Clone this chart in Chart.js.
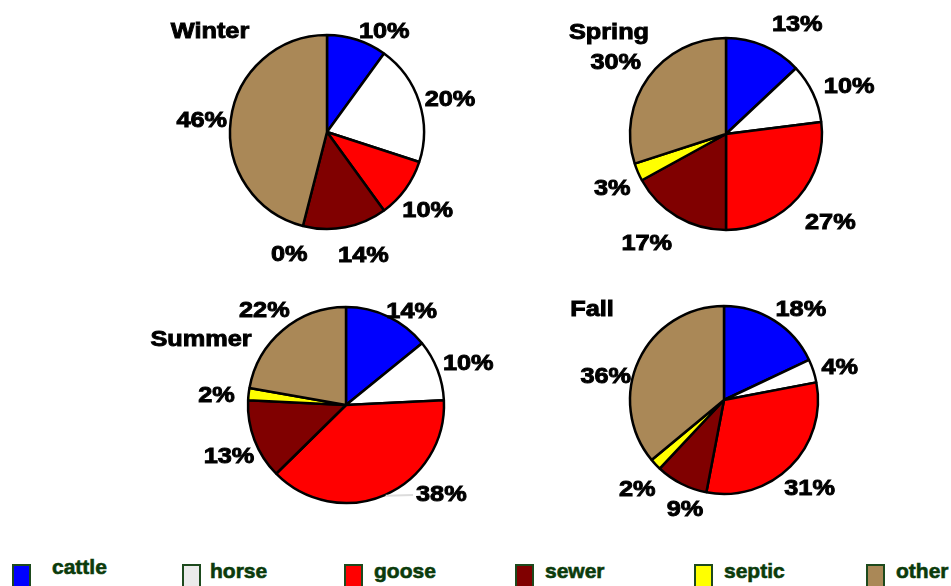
<!DOCTYPE html>
<html>
<head>
<meta charset="utf-8">
<script src="https://cdn.jsdelivr.net/npm/chart.js@4.4.0/dist/chart.umd.min.js"></script>
<style>
  html, body { margin: 0; padding: 0; background: #fff; }
  body { width: 951px; height: 586px; position: relative; overflow: hidden; }
  .pie { position: absolute; width: 400px; height: 280px; }
  .swatch { position: absolute; top: 564px; width: 15px; height: 24px; border: 2px solid #1d4a1d; }
  .ltext { position: absolute; font: bold 21px "Liberation Sans", Arial, sans-serif; color: #0b3b0b;
           line-height: 1; -webkit-text-stroke: 0.6px #0b3b0b; }
</style>
</head>
<body>
<div class="pie" id="p0"><canvas id="c0" width="400" height="280"></canvas></div>
<div class="pie" id="p1"><canvas id="c1" width="400" height="280"></canvas></div>
<div class="pie" id="p2"><canvas id="c2" width="400" height="280"></canvas></div>
<div class="pie" id="p3"><canvas id="c3" width="400" height="280"></canvas></div>
<div id="legend"></div>
<script>
// data (percent of sources)
var categories = ['cattle', 'horse', 'goose', 'sewer', 'septic', 'other'];
var seasons = ['Winter', 'Spring', 'Summer', 'Fall'];
var winter = [10, 20, 10, 14, 0, 46];
var spring = [13, 10, 27, 17, 3, 30];
var summer = [14, 10, 38, 13, 2, 22];
var fall = [18, 4, 31, 9, 2, 36];

var colors = ['#0000ff', '#ffffff', '#ff0000', '#800000', '#ffff00', '#aa8857'];
var legendColors = ['#0000ff', '#ebebeb', '#ff0000', '#800000', '#ffff00', '#aa8857'];

// layout of each pie: centre, radius, label distance, title offset,
// label angle nudges (deg) and distance tweaks (px)
var layout = [
  { cx: 327, cy: 132, r: 97, dist: 126, title: [-117, -103], nudge: [11, 2, 1, -6, 3, -1], dd: [-8, 2, 0, 0, 0, 0] },
  { cx: 726, cy: 134, r: 96, dist: 133, title: [-117, -104], nudge: [9, 3, -2, 6, -1, -2], dd: [0, 0, 2, 0, -8, 0] },
  { cx: 346, cy: 405, r: 98, dist: 127, title: [-145, -68], nudge: [9, 1, -24, -2, -1, 0], dd: [-11, 3, 2, 0, 3, 0] },
  { cx: 724, cy: 400, r: 94, dist: 121, title: [-132, -93], nudge: [7, 1, 0, -7, -2, -13], dd: [0, 0, 0, -7, 2, 0] }
];
var allData = [winter, spring, summer, fall];

var FONT = 'bold 22px "Liberation Sans", Arial, sans-serif';

function stretchText(ctx, txt, x, y) {
  ctx.save();
  ctx.translate(x, y + 3);
  ctx.scale(1.15, 1);
  ctx.strokeText(txt, 0, 0);
  ctx.fillText(txt, 0, 0);
  ctx.restore();
}

var pieLabels = {
  id: 'pieLabels',
  afterDatasetsDraw: function(chart, args, opts) {
    var ctx = chart.ctx;
    var lay = opts.lay;
    var meta = chart.getDatasetMeta(0);
    var vals = chart.data.datasets[0].data;
    ctx.save();
    ctx.font = FONT;
    ctx.textAlign = 'center';
    ctx.textBaseline = 'middle';
    meta.data.forEach(function(arc, i) {
      var p = arc.getProps(['x', 'y', 'startAngle', 'endAngle', 'outerRadius'], true);
      var mid = (p.startAngle + p.endAngle) / 2;
      var a = mid + lay.nudge[i] * Math.PI / 180;
      var d = lay.dist + lay.dd[i];
      var lx = p.x + Math.cos(a) * d;
      var ly = p.y + Math.sin(a) * d;
      var txt = vals[i] + '%';
      if (Math.abs(lay.nudge[i]) > 15) {
        var w = ctx.measureText(txt).width * 1.15;
        ctx.strokeStyle = '#dcdcdc';
        ctx.lineWidth = 2;
        ctx.beginPath();
        ctx.moveTo(p.x + Math.cos(mid) * (p.outerRadius + 1), p.y + Math.sin(mid) * (p.outerRadius + 1));
        ctx.lineTo(lx - w / 2 - 3, ly + 3);
        ctx.stroke();
      }
      ctx.fillStyle = '#000';
      ctx.strokeStyle = '#000';
      ctx.lineWidth = 0.9;
      stretchText(ctx, txt, lx, ly);
    });
    ctx.fillStyle = '#000';
    ctx.strokeStyle = '#000';
    ctx.lineWidth = 0.9;
    stretchText(ctx, opts.title, meta.data[0].x + lay.title[0], meta.data[0].y + lay.title[1]);
    ctx.restore();
  }
};

seasons.forEach(function(name, k) {
  var lay = layout[k];
  var box = document.getElementById('p' + k);
  box.style.left = (lay.cx - 200) + 'px';
  box.style.top = (lay.cy - 140) + 'px';
  new Chart(document.getElementById('c' + k), {
    type: 'pie',
    data: {
      labels: categories,
      datasets: [{
        data: allData[k],
        backgroundColor: colors,
        borderColor: '#000',
        borderWidth: 2.5
      }]
    },
    options: {
      responsive: false,
      animation: false,
      radius: lay.r,
      layout: { padding: 0 },
      plugins: {
        legend: { display: false },
        tooltip: { enabled: false },
        pieLabels: { lay: lay, title: name }
      }
    },
    plugins: [pieLabels]
  });
});

// shared legend along the bottom
var swatchX = [12, 182, 344, 515, 694, 866];
var textX = [52, 210, 374, 545, 724, 896];
var leg = document.getElementById('legend');
categories.forEach(function(c, i) {
  var s = document.createElement('div');
  s.className = 'swatch';
  s.style.left = swatchX[i] + 'px';
  s.style.background = legendColors[i];
  leg.appendChild(s);
  var t = document.createElement('div');
  t.className = 'ltext';
  t.textContent = c;
  t.style.left = textX[i] + 'px';
  t.style.top = (i === 0 ? 556 : 560) + 'px';
  leg.appendChild(t);
});
</script>
</body>
</html>
